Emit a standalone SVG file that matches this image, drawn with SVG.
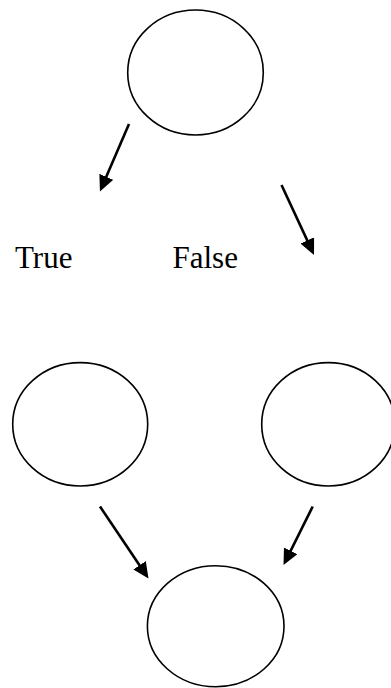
<svg xmlns="http://www.w3.org/2000/svg" width="391" height="688" viewBox="0 0 391 688">
<defs>
<style>
.node{fill:none;stroke:#000;stroke-width:1.6}
.edge{stroke:#000;stroke-width:2.6;fill:none}
.lbl{font-family:"Liberation Serif","Times New Roman",serif;font-size:31px;fill:#000}
</style>
<marker id="ah" markerUnits="userSpaceOnUse" markerWidth="18" markerHeight="16" viewBox="0 0 18 16" refX="6" refY="7.5" orient="auto">
<path d="M0,0 L16,7.5 L0,15 Z" fill="#000"/>
</marker>
</defs>
<rect width="391" height="688" fill="#fff"/>
<g id="n-top"><ellipse class="node" cx="195.5" cy="72.5" rx="67.8" ry="62.5"/></g>
<g id="n-left"><ellipse class="node" cx="80.2" cy="424.3" rx="67.5" ry="61.7"/></g>
<g id="n-right"><ellipse class="node" cx="328.3" cy="424.3" rx="66.6" ry="61.7"/></g>
<g id="n-bottom"><ellipse class="node" cx="215.7" cy="626.2" rx="68.3" ry="60.5"/></g>
<g id="connectors">
<line class="edge" x1="129" y1="124" x2="103.9" y2="182.3" marker-end="url(#ah)"/>
<line class="edge" x1="281.5" y1="185" x2="309.8" y2="245.9" marker-end="url(#ah)"/>
<line class="edge" x1="100" y1="506.5" x2="142.9" y2="570.2" marker-end="url(#ah)"/>
<line class="edge" x1="312.7" y1="506.5" x2="288" y2="556.1" marker-end="url(#ah)"/>
</g>
<g id="labels">
<text class="lbl" x="15" y="267.5">True</text>
<text class="lbl" x="172.5" y="267.5">False</text>
</g>
</svg>
